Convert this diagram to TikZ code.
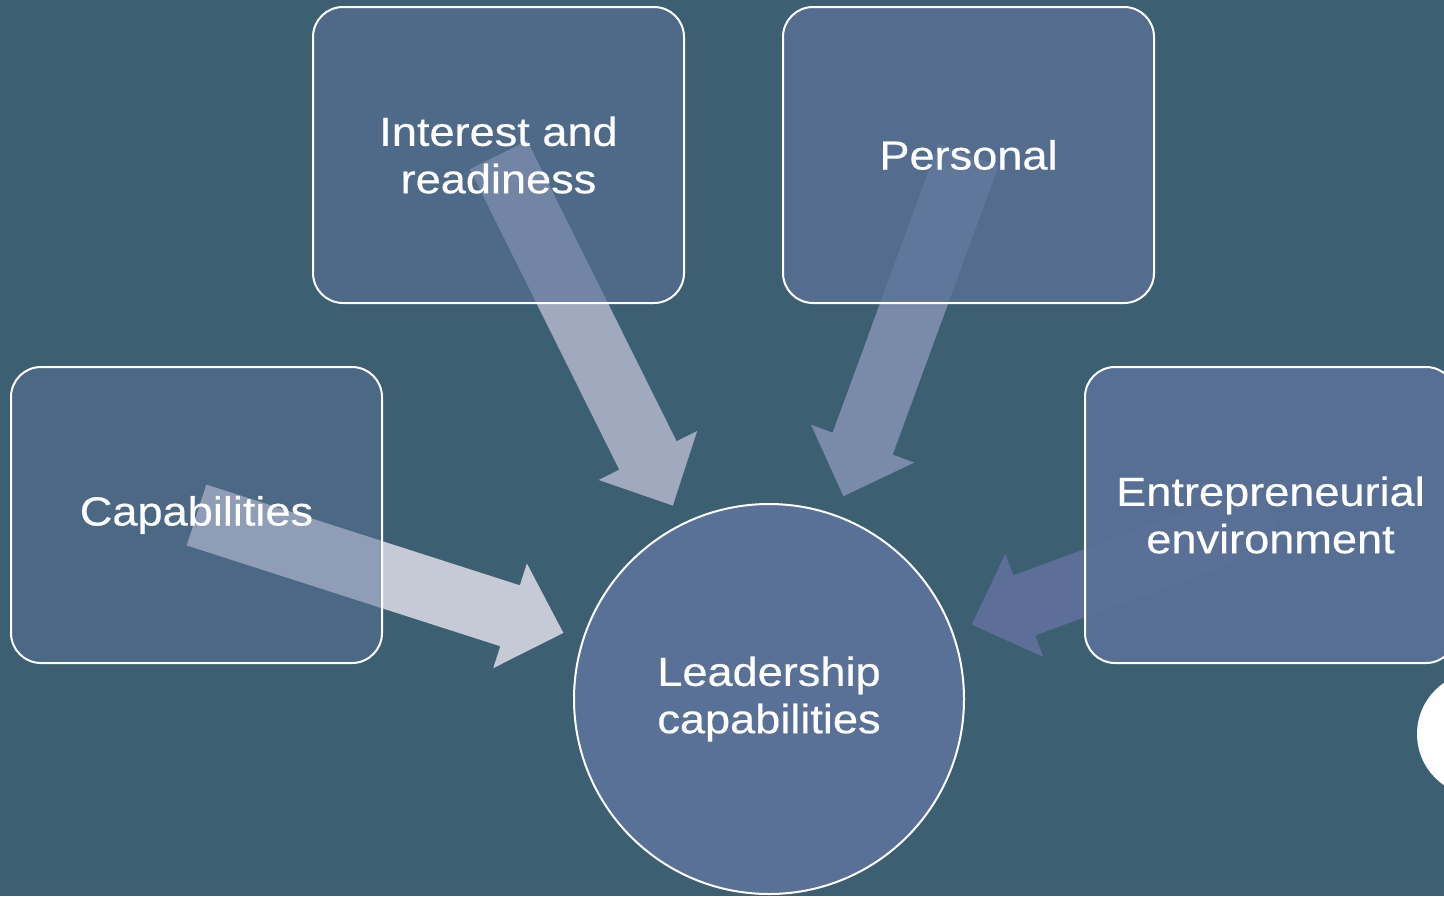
\documentclass[tikz,border=0pt]{standalone}
\usepackage{fontspec}
\setmainfont{Liberation Sans}[FakeStretch=1.11,FakeBold=0.4]
\usetikzlibrary{calc}

\definecolor{slidebg}{RGB}{61,95,114}
\definecolor{cardblue}{RGB}{90,113,151}
\definecolor{arrowA}{RGB}{197,202,214}
\definecolor{arrowB}{RGB}{160,169,190}
\definecolor{arrowC}{RGB}{122,139,170}
\definecolor{arrowD}{RGB}{93,111,153}

\pgfdeclarelayer{back}
\pgfdeclarelayer{arrows}
\pgfsetlayers{back,arrows,main}

\tikzset{every picture/.style={line width=0.75pt}}
\tikzset{
  factor/.style={draw=white, line width=1.5pt, fill=cardblue, rounded corners=22.5pt,
    minimum width=278.25pt, minimum height=222pt, inner sep=0pt,
    text=white, text opacity=1, align=center, font=\fontsize{30.5}{35.5}\selectfont},
  goal/.style={factor, circle, rounded corners=0pt, minimum size=292.5pt}
}

% block arrow from a box centre towards the circle
\newcommand{\blockarrow}[2]{%
  \coordinate (#1-tip) at ($(lead.center)!162pt!(#1.center)$);
  \coordinate (#1-head) at ($(#1-tip)!42pt!(#1.center)$);
  \fill[#2] ($(#1.center)!24pt!90:(#1-tip)$) -- ($(#1-head)!24pt!90:(#1-tip)$) -- ($(#1-head)!41.25pt!90:(#1-tip)$) -- (#1-tip) -- ($(#1-head)!41.25pt!-90:(#1-tip)$) -- ($(#1-head)!24pt!-90:(#1-tip)$) -- ($(#1.center)!24pt!-90:(#1-tip)$) -- cycle ;
}

\begin{document}
\begin{tikzpicture}[x=0.75pt,y=0.75pt,yscale=-1,xscale=1]
\useasboundingbox (0,0) rectangle (1444,896);

\begin{pgfonlayer}{back}
\fill [slidebg] (0,0) rectangle (1444,896);
\end{pgfonlayer}

%Shape: Rounded Rect
\node [factor, fill opacity=0.5] (cap) at (196.5,515) {Capabilities};
%Shape: Rounded Rect
\node [factor, fill opacity=0.63] (interest) at (498.5,155) {Interest and\\readiness};
%Shape: Rounded Rect
\node [factor, fill opacity=0.8] (personal) at (968.5,155) {Personal};
%Shape: Rounded Rect
\node [factor, fill opacity=0.93] (env) at (1270.5,515) {Entrepreneurial\\environment};
%Shape: Circle
\node [goal] (lead) at (769,699) {Leadership\\capabilities};

%Shape: Circle
\fill [white] (1479,734) circle (62);

%Block Arrows
\begin{pgfonlayer}{arrows}
\blockarrow{cap}{arrowA}
\blockarrow{interest}{arrowB}
\blockarrow{personal}{arrowC}
\blockarrow{env}{arrowD}
\end{pgfonlayer}

\end{tikzpicture}
\end{document}
